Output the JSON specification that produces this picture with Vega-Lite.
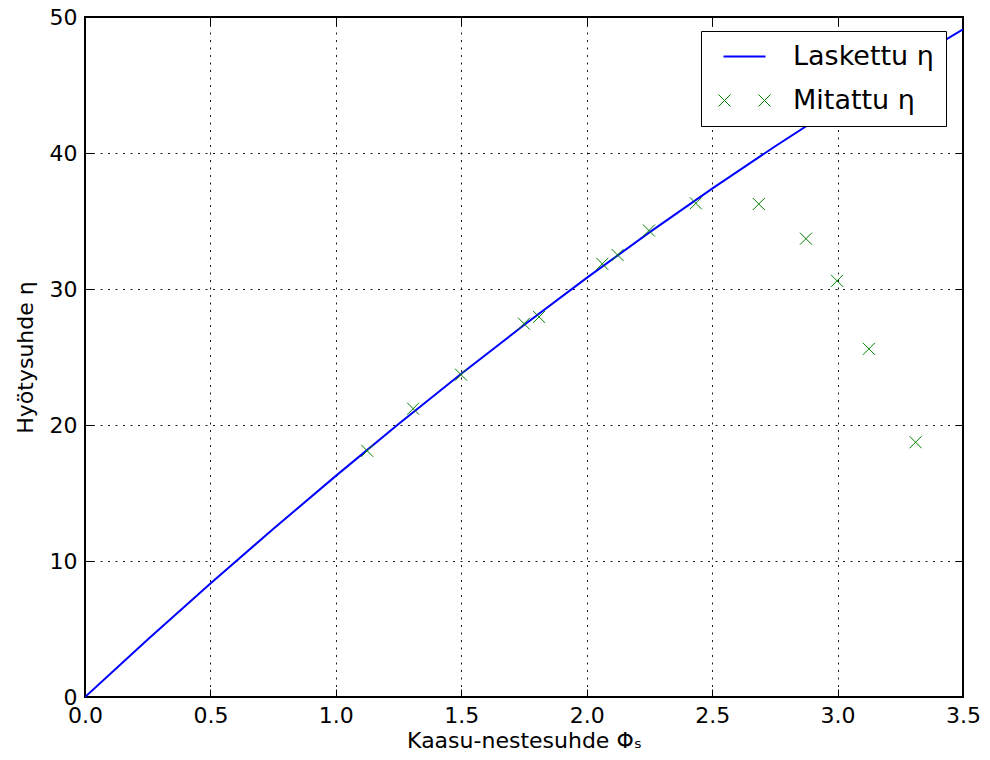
{
  "$schema": "https://vega.github.io/schema/vega-lite/v6.json",
  "width": 878,
  "height": 680,
  "autosize": "none",
  "padding": {"left": 85, "top": 17, "right": 27, "bottom": 63},
  "background": "white",
  "config": {
    "font": "DejaVu Sans",
    "view": {"stroke": "black", "strokeWidth": 2},
    "axis": {
      "labelFont": "DejaVu Sans",
      "titleFont": "DejaVu Sans",
      "labelFontSize": 22,
      "titleFontSize": 22,
      "labelColor": "black",
      "titleColor": "black",
      "titleFontWeight": "normal",
      "domain": false,
      "tickColor": "black",
      "tickWidth": 1,
      "tickSize": -8,
      "gridColor": "black",
      "gridDash": [2, 5.5],
      "gridWidth": 1,
      "gridOpacity": 0.9
    }
  },
  "datasets": {
    "calc": [
      {"phi": 0.0, "eta": 0.0, "series": "Laskettu η"},
      {"phi": 0.25, "eta": 4.23, "series": "Laskettu η"},
      {"phi": 0.5, "eta": 8.34, "series": "Laskettu η"},
      {"phi": 0.75, "eta": 12.35, "series": "Laskettu η"},
      {"phi": 1.0, "eta": 16.26, "series": "Laskettu η"},
      {"phi": 1.25, "eta": 20.08, "series": "Laskettu η"},
      {"phi": 1.5, "eta": 23.77, "series": "Laskettu η"},
      {"phi": 1.75, "eta": 27.35, "series": "Laskettu η"},
      {"phi": 2.0, "eta": 30.82, "series": "Laskettu η"},
      {"phi": 2.25, "eta": 34.16, "series": "Laskettu η"},
      {"phi": 2.5, "eta": 37.38, "series": "Laskettu η"},
      {"phi": 2.75, "eta": 40.48, "series": "Laskettu η"},
      {"phi": 3.0, "eta": 43.46, "series": "Laskettu η"},
      {"phi": 3.25, "eta": 46.33, "series": "Laskettu η"},
      {"phi": 3.5, "eta": 49.1, "series": "Laskettu η"}
    ],
    "meas": [
      {"phi": 1.125, "eta": 18.1, "series": "Mitattu η"},
      {"phi": 1.308, "eta": 21.2, "series": "Mitattu η"},
      {"phi": 1.499, "eta": 23.7, "series": "Mitattu η"},
      {"phi": 1.75, "eta": 27.45, "series": "Mitattu η"},
      {"phi": 1.81, "eta": 27.95, "series": "Mitattu η"},
      {"phi": 2.062, "eta": 31.85, "series": "Mitattu η"},
      {"phi": 2.123, "eta": 32.5, "series": "Mitattu η"},
      {"phi": 2.248, "eta": 34.3, "series": "Mitattu η"},
      {"phi": 2.435, "eta": 36.3, "series": "Mitattu η"},
      {"phi": 2.686, "eta": 36.25, "series": "Mitattu η"},
      {"phi": 2.874, "eta": 33.7, "series": "Mitattu η"},
      {"phi": 2.998, "eta": 30.6, "series": "Mitattu η"},
      {"phi": 3.125, "eta": 25.6, "series": "Mitattu η"},
      {"phi": 3.311, "eta": 18.73, "series": "Mitattu η"}
    ]
  },
  "layer": [
    {
      "data": {"name": "calc"},
      "mark": {"type": "line", "strokeWidth": 2, "clip": true},
      "encoding": {
        "x": {
          "field": "phi", "type": "quantitative",
          "scale": {"domain": [0, 3.5], "nice": false, "zero": false},
          "axis": {
            "orient": "bottom",
            "title": "Kaasu-nestesuhde Φₛ",
            "values": [0, 0.5, 1, 1.5, 2, 2.5, 3, 3.5],
            "format": ".1f",
            "labelPadding": 16,
            "titlePadding": 4,
            "grid": true,
            "labelFlush": false,
            "labelOverlap": false
          }
        },
        "y": {
          "field": "eta", "type": "quantitative",
          "scale": {"domain": [0, 50], "nice": false, "zero": false},
          "axis": {
            "orient": "left",
            "title": "Hyötysuhde η",
            "values": [0, 10, 20, 30, 40, 50],
            "labelPadding": 16,
            "titlePadding": 12,
            "grid": true,
            "labelFlush": false,
            "labelOverlap": false
          }
        },
        "color": {
          "field": "series", "type": "nominal",
          "scale": {"domain": ["Laskettu η", "Mitattu η"], "range": ["#0000ff", "#008000"]},
          "legend": {
            "orient": "none",
            "legendX": 616,
            "legendY": 14,
            "title": null,
            "strokeColor": "black",
            "fillColor": "white",
            "padding": 12,
            "rowPadding": 16,
            "labelFont": "DejaVu Sans",
            "labelFontSize": 27,
            "labelColor": "black",
            "labelLimit": 400,
            "labelOffset": 35,
            "symbolOffset": 18,
            "symbolSize": 400,
            "cornerRadius": 0,
            "encode": {
              "symbols": {
                "update": {
                  "shape": {"signal": "datum.value === 'Laskettu η' ? 'M-2.1,0L2.1,0' : 'M-2.6,-0.6L-1.4,0.6M-2.6,0.6L-1.4,-0.6M1.4,-0.6L2.6,0.6M1.4,0.6L2.6,-0.6'"},
                  "stroke": {"signal": "datum.value === 'Laskettu η' ? '#0000ff' : '#008000'"},
                  "strokeWidth": {"signal": "datum.value === 'Laskettu η' ? 2 : 1"},
                  "fill": {"value": "transparent"},
                  "opacity": {"value": 1}
                }
              }
            }
          }
        }
      }
    },
    {
      "data": {"name": "meas"},
      "mark": {"type": "point", "shape": "M-1,-1L1,1M-1,1L1,-1", "filled": false, "size": 144, "strokeWidth": 1, "opacity": 1},
      "encoding": {
        "x": {
          "field": "phi", "type": "quantitative",
          "axis": {
            "orient": "top",
            "title": null,
            "labels": false,
            "grid": false,
            "values": [0, 0.5, 1, 1.5, 2, 2.5, 3, 3.5]
          }
        },
        "y": {
          "field": "eta", "type": "quantitative",
          "axis": {
            "orient": "right",
            "title": null,
            "labels": false,
            "grid": false,
            "values": [0, 10, 20, 30, 40, 50]
          }
        },
        "color": {"field": "series", "type": "nominal"}
      }
    }
  ],
  "resolve": {"axis": {"x": "independent", "y": "independent"}}
}
